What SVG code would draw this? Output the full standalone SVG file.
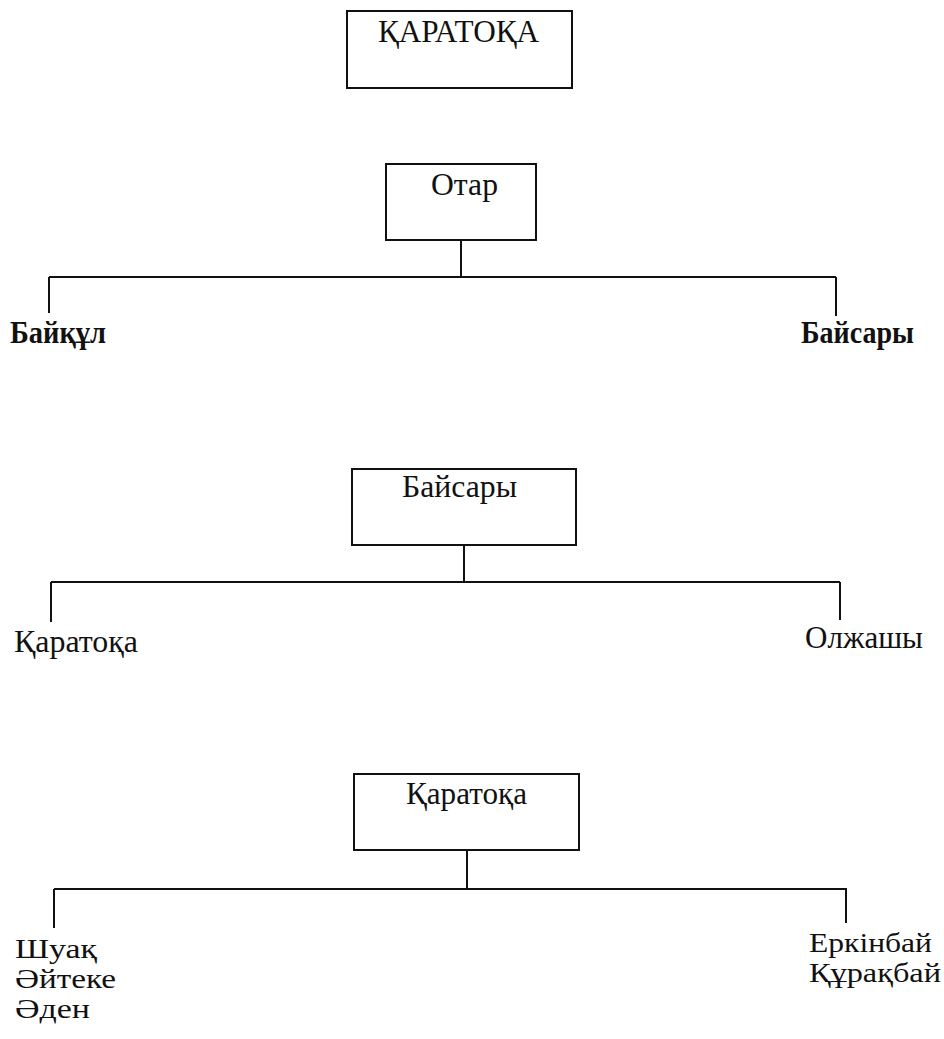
<svg xmlns="http://www.w3.org/2000/svg" width="944" height="1039" viewBox="0 0 944 1039">
<style>
.box{fill:#fff;stroke:#111;stroke-width:2}
.ln{stroke:#111;stroke-width:2;fill:none}
.t{font-family:"Liberation Serif","Times New Roman",serif;font-size:31px;fill:#111}
.s{font-size:27px}
.b{font-weight:bold}
</style>
<rect width="944" height="1039" fill="#fff"/>
<g id="connectors">
<path class="ln" d="M461 240V277M49 277H836M49 277V313M836 277V316"/>
<path class="ln" d="M464 545V582M51 582H840M51 582V622M840 582V620"/>
<path class="ln" d="M467 850V888M54 889H846M54 889V928M846 888V923"/>
</g>
<g id="root">
<rect class="box" x="347" y="11" width="225" height="77"/>
<text class="t" x="378" y="42" font-size="30" textLength="161" lengthAdjust="spacingAndGlyphs">ҚАРАТОҚА</text>
</g>
<g id="otar">
<rect class="box" x="386" y="164" width="150" height="76"/>
<text class="t" x="431" y="195" textLength="67" lengthAdjust="spacingAndGlyphs">Отар</text>
</g>
<g id="baiqul"><text class="t b" x="10" y="343" textLength="96" lengthAdjust="spacingAndGlyphs">Байқұл</text></g>
<g id="baisary-leaf"><text class="t b" x="801" y="343" textLength="113" lengthAdjust="spacingAndGlyphs">Байсары</text></g>
<g id="baisary">
<rect class="box" x="352" y="469" width="224" height="76"/>
<text class="t" x="402" y="497" textLength="115" lengthAdjust="spacingAndGlyphs">Байсары</text>
</g>
<g id="karatoka-leaf"><text class="t" x="14" y="652" textLength="124" lengthAdjust="spacingAndGlyphs">Қаратоқа</text></g>
<g id="olzhashy"><text class="t" x="805" y="648" textLength="118" lengthAdjust="spacingAndGlyphs">Олжашы</text></g>
<g id="karatoka">
<rect class="box" x="354" y="774" width="225" height="76"/>
<text class="t" x="406" y="804" textLength="121" lengthAdjust="spacingAndGlyphs">Қаратоқа</text>
</g>
<g id="left-children">
<text class="t s" x="15" y="958" textLength="82" lengthAdjust="spacingAndGlyphs">Шуақ</text>
<text class="t s" x="15" y="988" textLength="101" lengthAdjust="spacingAndGlyphs">Әйтеке</text>
<text class="t s" x="15" y="1018" textLength="75" lengthAdjust="spacingAndGlyphs">Әден</text>
</g>
<g id="right-children">
<text class="t s" x="809" y="952" textLength="123" lengthAdjust="spacingAndGlyphs">Еркінбай</text>
<text class="t s" x="809" y="982" textLength="132" lengthAdjust="spacingAndGlyphs">Құрақбай</text>
</g>
</svg>
